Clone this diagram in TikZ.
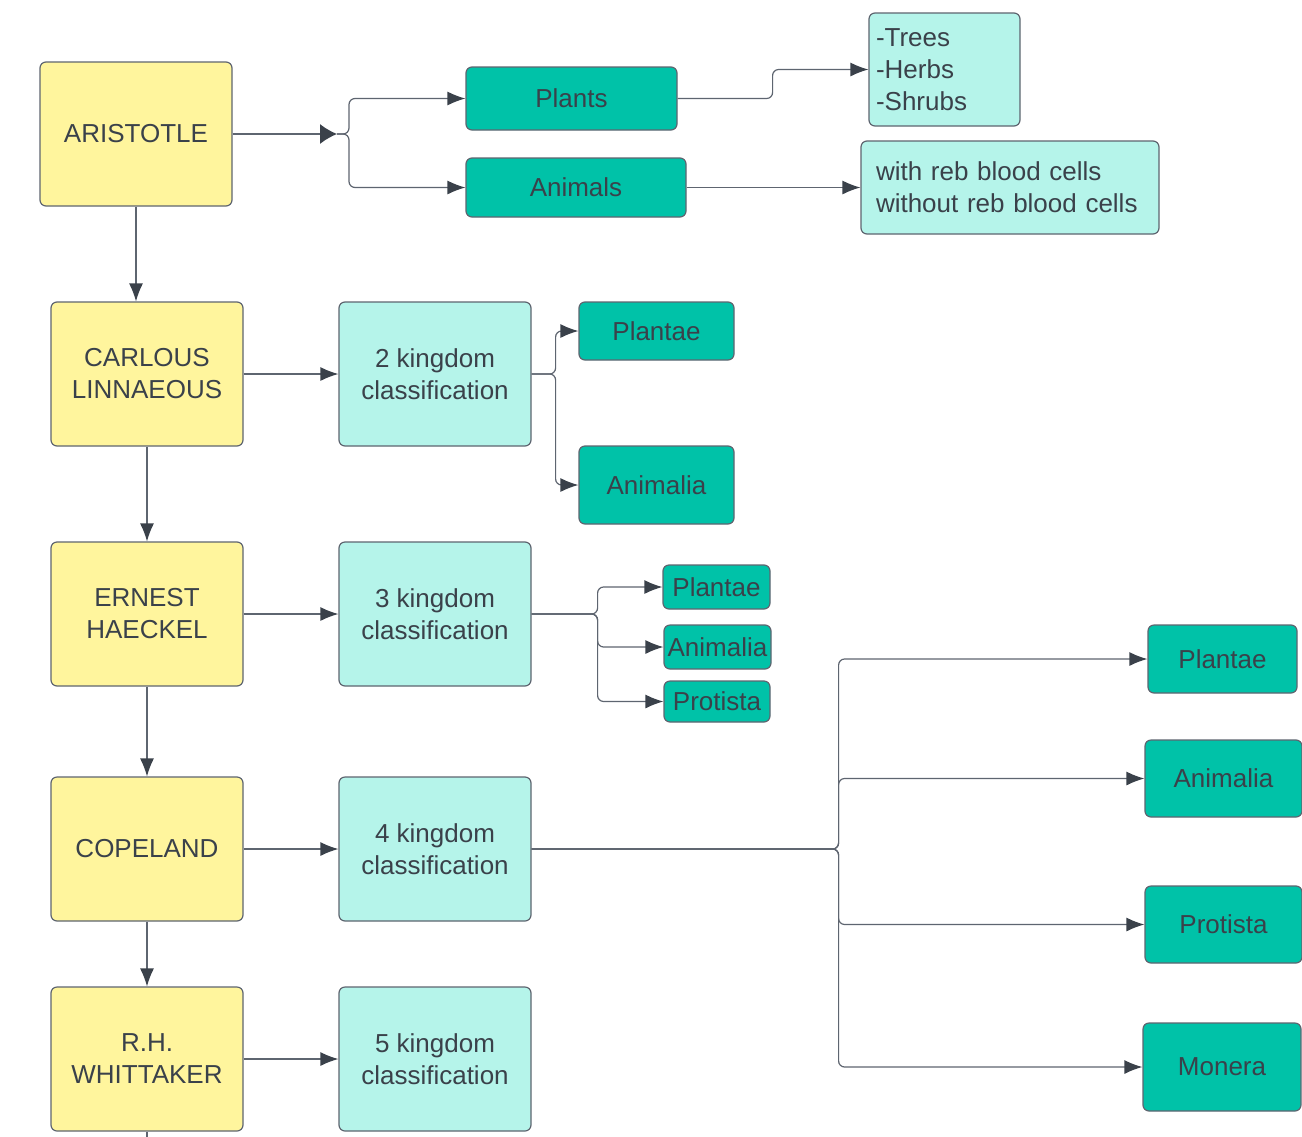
\documentclass[tikz,border=0pt]{standalone}
\usepackage{fontspec}
\setmainfont{Liberation Sans}
\usetikzlibrary{arrows.meta}
\definecolor{cYel}{HTML}{FFF59D}
\definecolor{cTeal}{HTML}{00C2A8}
\definecolor{cLight}{HTML}{B5F4EA}
\definecolor{cBord}{HTML}{5E6570}
\definecolor{cTxt}{HTML}{3A414A}
\tikzset{
  box/.style={draw=cBord, line width=1.2pt, rounded corners=6pt, text=cTxt, align=center, inner sep=0pt, font=\fontsize{26}{32}\selectfont},
  yelbox/.style={box, fill=cYel, minimum width=192pt, minimum height=144pt},
  lightbox/.style={box, fill=cLight, minimum width=192pt, minimum height=144pt},
  tealbox/.style={box, fill=cTeal},
  conn/.style={draw=cBord, line width=1.2pt, rounded corners=6pt, -{Latex[length=18pt,width=14pt,color=cTxt]}},
  plain/.style={draw=cBord, line width=1.2pt}
}
\begin{document}
\begin{tikzpicture}[x=1pt,y=-1pt]
\clip (0,0) rectangle (1302,1136);
\fill[white] (0,0) rectangle (1302,1136);
% left column
\node[yelbox] (A) at (136,134) {ARISTOTLE};
\node[yelbox] (C) at (147,374) {CARLOUS\\LINNAEOUS};
\node[yelbox] (E) at (147,614) {ERNEST\\HAECKEL};
\node[yelbox] (P) at (147,849) {COPELAND};
\node[yelbox] (W) at (147,1059) {R.H.\\WHITTAKER};
% classification column
\node[lightbox] (K2) at (435,374) {2 kingdom\\classification};
\node[lightbox] (K3) at (435,614) {3 kingdom\\classification};
\node[lightbox] (K4) at (435,849) {4 kingdom\\classification};
\node[lightbox] (K5) at (435,1059) {5 kingdom\\classification};
% Aristotle branch
\node[tealbox, minimum width=211pt, minimum height=63pt] (Pl) at (571.5,98.5) {Plants};
\node[tealbox, minimum width=220pt, minimum height=59pt] (An) at (576,187.5) {Animals};
\node[box, fill=cLight, minimum width=151pt, minimum height=113pt, text width=137pt, align=left] (Tr) at (944.5,69.5) {-Trees\\-Herbs\\-Shrubs};
\node[box, fill=cLight, minimum width=298pt, minimum height=93pt, text width=268pt, align=left] (Rb) at (1010,187.5) {with reb blood cells\\without reb blood cells};
% 2 kingdom
\node[tealbox, minimum width=155pt, minimum height=58pt] (P2) at (656.5,331) {Plantae};
\node[tealbox, minimum width=155pt, minimum height=78pt] (A2) at (656.5,485) {Animalia};
% 3 kingdom
\node[tealbox, minimum width=107pt, minimum height=44pt] (P3) at (716.5,587) {Plantae};
\node[tealbox, minimum width=107pt, minimum height=44pt] (A3) at (717.5,647) {Animalia};
\node[tealbox, minimum width=106pt, minimum height=41pt] (R3) at (717,701.5) {Protista};
% 4 kingdom
\node[tealbox, minimum width=149pt, minimum height=68pt] (P4) at (1222.5,659) {Plantae};
\node[tealbox, minimum width=157pt, minimum height=77pt] (A4) at (1223.5,778.5) {Animalia};
\node[tealbox, minimum width=157pt, minimum height=77pt] (R4) at (1223.5,924.5) {Protista};
\node[tealbox, minimum width=158pt, minimum height=88pt] (M4) at (1222,1067) {Monera};
% coordinates
\coordinate (j1) at (337,134);
\coordinate (wend) at (147,1150);
% connectors
\draw[plain, -{Latex[length=17pt,width=20pt,color=cTxt]}] (A.east) -- (j1);
\draw[conn] (j1) -- ++(12,0) |- (Pl.west);
\draw[conn] (j1) -- ++(12,0) |- (An.west);
\draw[conn] (Pl.east) -- ++(95,0) |- (Tr.west);
\draw[conn] (An.east) -- (Rb.west |- An.east);
\draw[conn] (A.south) -- (A.south |- C.north);
\draw[conn] (C.east) -- (K2.west);
\draw[conn] (K2.east) -- ++(24,0) |- (P2.west);
\draw[conn] (K2.east) -- ++(24,0) |- (A2.west);
\draw[conn] (C.south) -- (E.north);
\draw[conn] (E.east) -- (K3.west);
\draw[conn] (K3.east) -- ++(66,0) |- (P3.west);
\draw[conn] (K3.east) -- ++(66,0) |- (A3.west);
\draw[conn] (K3.east) -- ++(66,0) |- (R3.west);
\draw[conn] (E.south) -- (P.north);
\draw[conn] (P.east) -- (K4.west);
\draw[conn] (K4.east) -- ++(307,0) |- (P4.west);
\draw[conn] (K4.east) -- ++(307,0) |- (A4.west);
\draw[conn] (K4.east) -- ++(307,0) |- (R4.west);
\draw[conn] (K4.east) -- ++(307,0) |- (M4.west);
\draw[conn] (P.south) -- (W.north);
\draw[conn] (W.east) -- (K5.west);
\draw[plain] (W.south) -- (wend);
\end{tikzpicture}
\end{document}
